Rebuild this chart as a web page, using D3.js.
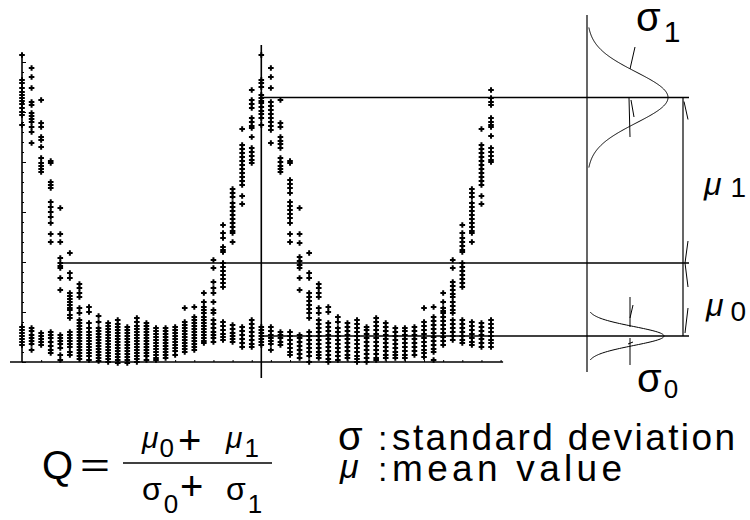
<!DOCTYPE html>
<html>
<head>
<meta charset="utf-8">
<script src="https://cdn.jsdelivr.net/npm/d3@7"></script>
<style>
  html, body { margin: 0; padding: 0; background: #fff; }
  svg { display: block; }
  text { font-family: "Liberation Sans", Arial, sans-serif; fill: #000; }
</style>
</head>
<body>
<svg id="chart" width="750" height="520"></svg>
<script>
// ---- data -------------------------------------------------------------
// One column of sampled signal levels per scan position.
const scanPositions = d3.range(50);
const readings = [
  [307,282,279,274,270,267,264,261,258,254,250,247,237, 35,32,29,26,23,20,17],
  [294,285,274,260,257,249,246,243,240,235,230,219, 34,31,27,24,21,18,12],
  [262,239,235,225,222,215,204,199,196,193,190, 29,26,23,20,17],
  [201,199,180,177,174,160,155,150,145,139,128,120, 30,27,24,20,16,12,9],
  [154,128,120,104,99,96,94,84,72, 27,24,21,18,14,7,2],
  [109,89,84,69,66,63,60,57,54,52,47,44, 30,27,24,21,18,15,10,7],
  [78,74,69,65,54,49,42,39,36,33,30,27,24,21,18,15,12,9,6,3],
  [55,50,39,34,30,27,24,21,18,15,12,9,6,2],
  [46,40,34,31,28,25,22,19,16,13,10,7,4,1],
  [39,36,33,30,27,24,21,18,15,12,9,6,3,0],
  [42,38,35,32,29,26,23,20,17,14,11,8,5,2,-1],
  [35,32,29,26,23,20,17,14,11,8,5,2,-1],
  [44,40,36,33,30,27,24,21,18,15,12,9,6,3,0],
  [39,36,33,30,27,24,21,18,15,12,9,6,2],
  [34,31,28,25,22,19,16,13,10,7,4,2],
  [34,31,28,25,22,19,16,13,10,7,4],
  [35,32,29,26,23,20,17,14,11,7],
  [54,40,37,34,31,28,25,22,19,16,13,10],
  [55,45,42,39,36,33,30,27,24,21,18,15,12],
  [69,60,55,52,49,45,42,39,36,33,30,27,24,21,19],
  [102,94,80,74,69,60,52,49, 42,38,34,30,27,24,20],
  [137,129,124,115,112,110,99,95,91,87,83,79,75, 40,36,32,28,25,22],
  [173,169,165,159,155,151,147,143,139,135,131,129,120, 37,33,29,26,23,20],
  [233,217,213,209,205,201,197,193,189,185,181,177,166,158, 35,31,27,23,19,15],
  [272,262,258,254,244,240,236,234,225,214,210,206,202,199, 42,38,34,30,26,22,18,15],
  [307,282,279,275,267,264,261,259,255,251,248,244,237, 35,32,29,26,23,20,17],
  [294,285,274,260,256,252,248,244,240,236,232,219, 35,31,27,24,21,18,12],
  [262,239,235,225,221,218,214,204,200,196,193,190, 30,27,24,20,17],
  [201,199,182,178,174,169,160,156,152,148,144,139,128,120, 30,26,22,18,14,10,7],
  [154,128,119,105,101,97,94,84,72, 27,24,20,16,12,8,4],
  [109,89,84,69,65,61,57,53,49,44, 30,26,22,18,14,10,6,0],
  [78,74,69,65,54,49,42,38,34,30,26,22,18,14,10,7,4],
  [55,50,39,35,31,27,23,19,15,11,7,3,0],
  [45,40,34,30,26,22,18,14,10,6,2],
  [39,35,31,27,23,19,15,11,7,4],
  [42,38,34,30,26,22,18,14,10,6,3,0],
  [35,32,28,24,20,16,12,8,4,0],
  [44,40,36,32,28,24,20,16,12,8,4,2],
  [39,35,31,27,23,19,15,11,7,4],
  [34,30,26,22,18,14,10,7,4],
  [34,31,27,23,19,15,11,7,4],
  [35,31,27,23,19,15,11,7],
  [54,40,36,32,28,24,20,16,12,9,5],
  [55,45,41,37,33,29,25,21,17,13,10,2],
  [69,60,54,51,49,45,41,37,33,29,25,21,17],
  [102,94,80,76,72,68,65,60,56,52,49, 42,38,34,30,26,22],
  [137,129,124,120,116,112,110,99,95,91,87,83,79,75, 42,38,34,30,26,22,19],
  [173,169,165,159,155,151,147,143,139,135,131,129,120, 40,36,32,28,24,20,17],
  [233,217,213,209,205,201,197,193,189,185,181,177,166,158, 39,35,31,27,23,19,15],
  [272,264,260,257,244,240,237,235,226,214,210,206,202,200, 42,38,34,30,26,22,19,15]
];

// Class statistics: mean levels and spreads of the "1" and "0" populations,
// plus the decision threshold between them.
const mu1 = 264.5, sigma1 = 25.5;
const mu0 = 26, sigma0 = 9.5;
const threshold = 99;

const yMinorTicks = d3.range(0, 301, 10);
const yMajorTicks = d3.range(0, 301, 50);
const xTicks = d3.range(2, 51, 2);

// ---- layout -----------------------------------------------------------
const svg = d3.select("#chart");
const x = d3.scaleLinear().domain([0, 50]).range([22, 500.6]);
const y = d3.scaleLinear().domain([0, 307]).range([362, 55]);
const centreScan = 25;

// distribution panel: density (0..1) drawn rightwards from a baseline
const dens1 = d3.scaleLinear().domain([0, 1]).range([587, 668]);
const dens0 = d3.scaleLinear().domain([0, 1]).range([587, 664]);
const panelRight = 689;
const dimX = 683;

const ink = "#000";

// ---- axes -------------------------------------------------------------
const g = svg.append("g");

// y axis with inward minor / major ticks
g.append("g")
  .attr("transform", `translate(${x(0)},0)`)
  .call(d3.axisRight(y).tickValues(yMinorTicks).tickSize(2).tickFormat(""))
  .call(a => a.select(".domain").remove())
  .call(a => a.selectAll("line").attr("stroke", ink).attr("stroke-width", 1));
g.append("g")
  .attr("transform", `translate(${x(0)},0)`)
  .call(d3.axisRight(y).tickValues(yMajorTicks).tickSize(4).tickFormat(""))
  .call(a => a.select(".domain").remove())
  .call(a => a.selectAll("line").attr("stroke", ink).attr("stroke-width", 1));
g.append("line")
  .attr("x1", x(0)).attr("x2", x(0))
  .attr("y1", y(0)).attr("y2", y(307) - 1)
  .attr("stroke", ink).attr("stroke-width", 1.6);

// x axis: base line with small upward ticks
g.append("g")
  .attr("transform", `translate(0,${y(0)})`)
  .call(d3.axisTop(x).tickValues(xTicks).tickSize(2).tickFormat(""))
  .call(a => a.select(".domain").remove())
  .call(a => a.selectAll("line").attr("stroke", ink).attr("stroke-width", 1));
g.append("line")
  .attr("x1", 10).attr("x2", x(50) + 2.5)
  .attr("y1", y(0)).attr("y2", y(0))
  .attr("stroke", ink).attr("stroke-width", 1.6);

// centre reference line through the middle scan position
g.append("line")
  .attr("x1", x(centreScan)).attr("x2", x(centreScan))
  .attr("y1", y(0) - 317).attr("y2", y(0) + 16)
  .attr("stroke", ink).attr("stroke-width", 1.6);

// ---- samples ----------------------------------------------------------
const points = readings.flatMap((col, i) => col.map(v => ({ i: scanPositions[i], v })));
g.append("g")
  .selectAll("path")
  .data(points)
  .join("path")
  .attr("transform", d => `translate(${x(d.i)},${y(d.v)})`)
  .attr("d", "M-2.8,0H2.8M0,-2.8V2.8")
  .attr("stroke", ink)
  .attr("stroke-width", 2)
  .attr("fill", "none");

// ---- level lines ------------------------------------------------------
const levels = [
  { v: mu1, from: x(centreScan) },
  { v: threshold, from: 62 },
  { v: mu0, from: x(centreScan) }
];
g.append("g")
  .selectAll("line")
  .data(levels)
  .join("line")
  .attr("x1", d => d.from).attr("x2", panelRight)
  .attr("y1", d => y(d.v)).attr("y2", d => y(d.v))
  .attr("stroke", ink).attr("stroke-width", 1.3);

// ---- distribution panel -----------------------------------------------
g.append("line")
  .attr("x1", 587).attr("x2", 587)
  .attr("y1", 15).attr("y2", 372)
  .attr("stroke", ink).attr("stroke-width", 1.2);

const gauss = (v, m, s) => Math.exp(-((v - m) ** 2) / (2 * s * s));
const curve = (m, s, half, dens) => {
  const vs = d3.range(-half, half + 0.001, 0.5).map(t => m + t);
  return d3.line().x(v => dens(gauss(v, m, s))).y(v => y(v))(vs);
};
g.append("path").attr("d", curve(mu1, sigma1, 70, dens1))
  .attr("fill", "none").attr("stroke", ink).attr("stroke-width", 1);
g.append("path").attr("d", curve(mu0, sigma0, 24, dens0))
  .attr("fill", "none").attr("stroke", ink).attr("stroke-width", 1);

// spread markers on each curve
const marks = [
  [635, 47, 630, 69],
  [629, 98, 630, 137],
  [631, 100, 634, 117],
  [630, 297, 630, 327],
  [633, 305, 630, 318],
  [630, 338, 630, 365],
  [628, 344, 633, 342]
];
g.append("g").selectAll("line").data(marks).join("line")
  .attr("x1", d => d[0]).attr("y1", d => d[1])
  .attr("x2", d => d[2]).attr("y2", d => d[3])
  .attr("stroke", ink).attr("stroke-width", 1);

// dimension line between the two means
g.append("line")
  .attr("x1", dimX).attr("x2", dimX)
  .attr("y1", y(mu1)).attr("y2", y(mu0))
  .attr("stroke", ink).attr("stroke-width", 1.2);
const yT = y(threshold);
const dimTicks = [
  [684, y(mu1) + 4, 688, y(mu1) + 22],
  [688, yT - 22, 685, yT],
  [685, yT, 688, yT + 24],
  [688, y(mu0) - 28, 685, y(mu0) - 3]
];
g.append("g").selectAll("line").data(dimTicks).join("line")
  .attr("x1", d => d[0]).attr("y1", d => d[1])
  .attr("x2", d => d[2]).attr("y2", d => d[3])
  .attr("stroke", ink).attr("stroke-width", 1);

// ---- labels -----------------------------------------------------------
function sym(xp, yp, main, sub, size, subSize, italic, subDx, subDy) {
  const t = svg.append("text").attr("x", xp).attr("y", yp).attr("font-size", size);
  t.append("tspan").text(main).attr("font-style", italic ? "italic" : "normal");
  t.append("tspan").text(sub).attr("font-size", subSize).attr("dx", subDx).attr("dy", subDy);
  return t;
}
sym(636, 31, "σ", "1", 40, 30, false, 3, 11);
sym(704, 195, "μ", "1", 32, 28, true, 9, 2);
sym(706, 316, "μ", "0", 32, 28, true, 7, 5);
sym(637, 392, "σ", "0", 40, 26, false, 2, 6);

// formula
svg.append("text").attr("x", 42).attr("y", 479).attr("font-size", 40).text("Q");
svg.append("text").attr("x", 80).attr("y", 477).attr("font-size", 34)
  .attr("textLength", 30).attr("lengthAdjust", "spacingAndGlyphs").text("=");
svg.append("line").attr("x1", 123).attr("x2", 272).attr("y1", 463).attr("y2", 463)
  .attr("stroke", ink).attr("stroke-width", 1.5);
sym(142, 448, "μ", "0", 30, 26, true, 1, 9);
svg.append("text").attr("x", 178).attr("y", 454).attr("font-size", 40).text("+");
sym(226, 448, "μ", "1", 30, 26, true, 2, 9);
sym(142, 500, "σ", "0", 32, 26, false, 2, 13);
svg.append("text").attr("x", 180).attr("y", 500).attr("font-size", 40).text("+");
sym(226, 500, "σ", "1", 32, 26, false, 2, 13);

// legend
svg.append("text").attr("x", 338).attr("y", 450).attr("font-size", 40).text("σ");
svg.append("text").attr("x", 378).attr("y", 450).attr("font-size", 34).text(":");
svg.append("text").attr("x", 392).attr("y", 450).attr("font-size", 37)
  .attr("textLength", 343).attr("lengthAdjust", "spacing").text("standard deviation");
svg.append("text").attr("x", 340).attr("y", 478).attr("font-size", 34)
  .attr("font-style", "italic").text("μ");
svg.append("text").attr("x", 378).attr("y", 481).attr("font-size", 34).text(":");
svg.append("text").attr("x", 392).attr("y", 481).attr("font-size", 37)
  .attr("textLength", 230).attr("lengthAdjust", "spacing").text("mean value");
</script>
</body>
</html>
